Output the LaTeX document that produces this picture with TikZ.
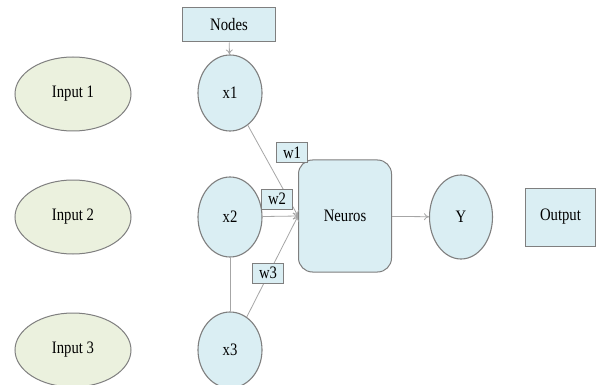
\documentclass[tikz,border=0pt]{standalone}
\usepackage{fontspec}
\setmainfont[FakeStretch=0.84]{Liberation Serif}
\usetikzlibrary{shapes.geometric,arrows.meta}
\definecolor{boxfill}{HTML}{DAEEF3}
\definecolor{inputfill}{HTML}{EBF1DE}
\definecolor{edgegray}{HTML}{7F7F7F}
\definecolor{wiregray}{HTML}{A6A6A6}
\tikzset{
  txt/.style={font=\fontsize{17.5}{20}\selectfont, text=black},
  oval/.style={txt, ellipse, draw=edgegray, line width=1.1pt, fill=boxfill, inner sep=0pt},
  inputoval/.style={txt, ellipse, draw=edgegray, line width=1pt, fill=inputfill, inner sep=0pt,
    minimum width=116pt, minimum height=74pt},
  unit/.style={oval, minimum width=64pt, minimum height=76pt},
  rectbox/.style={txt, rectangle, draw=edgegray, line width=1pt, fill=boxfill, inner sep=0pt},
  weight/.style={rectbox, minimum width=31pt, minimum height=20pt},
  wire/.style={draw=wiregray, line width=0.8pt},
  arrowwire/.style={wire, -{To[length=5pt,width=7pt]}}
}
\begin{document}
\begin{tikzpicture}[x=1pt,y=-1pt]
\useasboundingbox (0,0) rectangle (597,385);
\fill[white] (0,0) rectangle (597,385);

% input column
\node[inputoval] (in1) at (73,94)  {Input 1};
\node[inputoval] (in2) at (73,217) {Input 2};
\node[inputoval] (in3) at (73,350) {Input 3};

% node column
\node[rectbox, minimum width=93pt, minimum height=34pt] (nodes) at (229,25) {Nodes};
\node[unit] (x1) at (230,93)  {x1};
\node[unit, minimum height=80pt] (x2) at (230,217) {x2};
\node[unit] (x3) at (230,350) {x3};

% neuron and output
\node[rectbox, rounded corners=14pt, minimum width=93pt, minimum height=112pt] (neuron) at (345,216) {Neuros};
\node[oval, minimum width=63pt, minimum height=84pt] (y) at (461,217) {Y};
\node[rectbox, minimum width=70pt, minimum height=58pt] (out) at (560.5,217) {Output};

% connectors
\draw[arrowwire] (nodes) -- (x1);
\draw[wire] (x2) -- (x3);
\draw[arrowwire] (x1) -- (neuron.west);
\draw[arrowwire] (x2) -- (neuron.west);
\draw[arrowwire] (x3) -- (neuron.west);
\draw[arrowwire] (neuron) -- (y);

% weights
\node[weight] (w1) at (292,153) {w1};
\node[weight] (w2) at (277,199) {w2};
\node[weight] (w3) at (268,273) {w3};
\end{tikzpicture}
\end{document}
